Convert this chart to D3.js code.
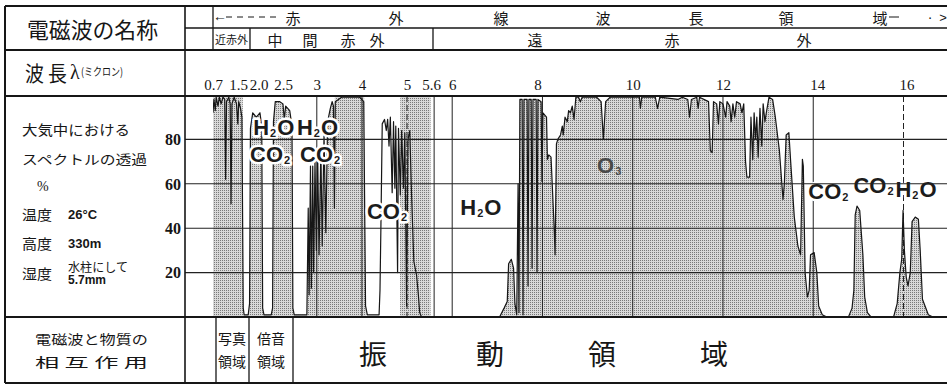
<!DOCTYPE html>
<html>
<head>
<meta charset="utf-8">
<script src="https://cdn.jsdelivr.net/npm/d3@7"></script>
<style>
  body { margin: 0; background: #fff; }
  svg { display: block; }
</style>
</head>
<body>
<svg id="chart" width="947" height="386"></svg>
<script>
// Atmospheric transmission (%) against wavelength (µm)
const nearIR = [
  [0.70, 92], [0.72, 98], [0.75, 93], [0.77, 99], [0.81, 95], [0.84, 99], [0.88, 96],
  [0.92, 99], [0.96, 98], [0.98, 62], [1.00, 97], [1.05, 99], [1.08, 96], [1.10, 51],
  [1.12, 96], [1.17, 99], [1.22, 96], [1.25, 87], [1.27, 97], [1.31, 94], [1.34, 90],
  [1.37, 4], [1.39, 1], [1.48, 1], [1.51, 6]
]
const midIR = [
  [1.53, 85], [1.58, 92], [1.66, 90], [1.74, 92], [1.78, 86], [1.80, 4], [1.83, 1],
  [1.99, 1], [2.02, 4], [2.04, 88], [2.08, 97], [2.18, 97], [2.25, 96], [2.28, 89],
  [2.31, 95], [2.40, 93], [2.45, 86], [2.47, 4], [2.50, 1], [2.78, 1], [2.81, 49],
  [2.83, 10], [2.86, 68], [2.88, 13], [2.91, 68], [2.93, 20], [2.96, 70], [2.99, 30],
  [3.02, 72], [3.05, 28], [3.09, 76], [3.12, 32], [3.16, 82], [3.20, 38], [3.24, 88],
  [3.30, 94], [3.34, 97], [3.37, 95], [3.39, 49], [3.41, 97], [3.55, 99], [3.75, 99],
  [3.95, 99], [4.04, 97], [4.08, 5], [4.12, 1], [4.38, 1], [4.40, 12], [4.42, 40],
  [4.45, 87], [4.50, 89], [4.54, 84], [4.57, 89], [4.60, 77], [4.63, 90], [4.67, 56],
  [4.70, 88], [4.73, 58], [4.75, 86], [4.79, 20], [4.81, 85], [4.85, 55], [4.88, 84],
  [4.92, 58], [4.95, 83], [4.99, 5], [5.02, 80], [5.06, 84], [5.10, 55], [5.15, 25],
  [5.21, 19], [5.25, 10], [5.28, 2], [5.32, 0]
]
const farIR = [
  [7.05, 0], [7.15, 4], [7.22, 7], [7.25, 24], [7.31, 26], [7.36, 22], [7.39, 6],
  [7.43, 1], [7.46, 60], [7.48, 2], [7.50, 98], [7.55, 98], [7.57, 1], [7.59, 98],
  [7.66, 98], [7.68, 14], [7.70, 98], [7.75, 98], [7.77, 22], [7.79, 98], [7.86, 98],
  [7.88, 20], [7.90, 98], [7.97, 97], [7.99, 61], [8.01, 92], [8.09, 90], [8.11, 71],
  [8.14, 73], [8.19, 72], [8.26, 40], [8.28, 28], [8.31, 78], [8.34, 80], [8.40, 82],
  [8.44, 86], [8.46, 82], [8.50, 90], [8.55, 88], [8.58, 93], [8.62, 92], [8.66, 95],
  [8.70, 89], [8.74, 99], [8.80, 99], [8.84, 97], [8.88, 99], [9.00, 99], [9.20, 99],
  [9.30, 97], [9.35, 80], [9.40, 97], [9.50, 99], [9.90, 99], [10.15, 99], [10.17, 94],
  [10.20, 99], [10.50, 99], [10.55, 94], [10.60, 99], [11.00, 98], [11.10, 99],
  [11.22, 98], [11.26, 90], [11.30, 98], [11.42, 99], [11.45, 94], [11.48, 99],
  [11.68, 97], [11.72, 75], [11.76, 74], [11.79, 97], [11.86, 96], [11.90, 87],
  [11.93, 97], [12.00, 96], [12.06, 90], [12.09, 97], [12.15, 95], [12.18, 88],
  [12.22, 96], [12.26, 90], [12.30, 97], [12.38, 96], [12.42, 92], [12.46, 96],
  [12.50, 70], [12.53, 63], [12.59, 63], [12.62, 90], [12.66, 71], [12.69, 92],
  [12.72, 80], [12.75, 90], [12.78, 72], [12.82, 94], [12.86, 77], [12.89, 96],
  [12.93, 88], [12.96, 92], [13.02, 99], [13.10, 98], [13.16, 90], [13.25, 75],
  [13.33, 53], [13.36, 60], [13.40, 82], [13.46, 83], [13.50, 70], [13.58, 45],
  [13.66, 32], [13.72, 28], [13.76, 71], [13.78, 68], [13.82, 20], [13.87, 9],
  [13.91, 12], [13.94, 28], [14.02, 29], [14.08, 20], [14.12, 5], [14.20, 1],
  [14.30, 0], [14.78, 0], [14.86, 4], [14.90, 12], [14.93, 46], [14.97, 50],
  [15.03, 48], [15.10, 28], [15.14, 9], [15.20, 2], [15.28, 0], [15.78, 0],
  [15.86, 6], [15.92, 20], [15.96, 26], [15.99, 48], [16.02, 30], [16.06, 18],
  [16.10, 14], [16.15, 20], [16.19, 43], [16.26, 45], [16.33, 44], [16.37, 30],
  [16.42, 8], [16.55, 1], [16.65, 0], [17.00, 0]
]

const percentTicks = [20, 40, 60, 80]
const wavelengthTicks = [0.7, 1.5, 2.0, 2.5, 3, 4, 5, 5.6, 6, 8, 10, 12, 14, 16]
const gridWavelengths = [3, 4, 5, 5.6, 6, 8, 10, 12, 14, 16]
const dashedGrid = [5, 16]
// full-height shaded bands and the ranges where the area under the curve is shaded
const windowBands = [[0.7, 1.36], [3.40, 4.05], [4.85, 5.52]]
const shadedRanges = [[0.7, 4.1], [4.85, 17]]

const moleculeLabels = [
  { text: "H2O", wl: 1.59, pct: 82 },
  { text: "H2O", wl: 2.56, pct: 82 },
  { text: "CO2", wl: 1.52, pct: 70 },
  { text: "CO2", wl: 2.63, pct: 70 },
  { text: "CO2", wl: 4.11, pct: 44 },
  { text: "H2O", wl: 6.18, pct: 46 },
  { text: "O3", wl: 9.21, pct: 65 },
  { text: "CO2", wl: 13.89, pct: 53 },
  { text: "CO2", wl: 14.89, pct: 56 },
  { text: "H2O", wl: 15.82, pct: 54 }
]

const spectrum = nearIR.concat(midIR, farIR)

const svg = d3.select("#chart")
const W = 947
const colLeft = 5, colDivider = 185, plotLeft = 213
const frameTop = 6, headMid = 28, headBottom = 50, plotTop = 96, plotBottom = 317, frameBottom = 383
const sans = "'Liberation Sans', Arial, sans-serif"
const serif = "'Liberation Serif', 'DejaVu Serif', serif"
const cjk = "'Noto Sans CJK JP', sans-serif"
const ink = "#161616"

const x = d3.scaleLinear().domain([0.7, 16]).range([plotLeft, 903.5])
const y = d3.scaleLinear().domain([0, 100]).range([plotBottom, 95])

const defs = svg.append("defs")
const pat = defs.append("pattern")
  .attr("id", "stipple").attr("width", 2).attr("height", 2)
  .attr("patternUnits", "userSpaceOnUse")
pat.append("rect").attr("width", 2).attr("height", 2).attr("fill", "#d9d9d9")
pat.append("rect").attr("width", 1).attr("height", 1).attr("fill", "#7a7a7a")

defs.append("clipPath").attr("id", "plotClip")
  .append("rect")
  .attr("x", plotLeft).attr("y", plotTop)
  .attr("width", W - plotLeft).attr("height", plotBottom - plotTop)

const shadeClip = defs.append("clipPath").attr("id", "shadeClip")
shadeClip.selectAll("rect")
  .data(shadedRanges)
  .enter().append("rect")
  .attr("x", d => x(d[0]))
  .attr("width", d => x(d[1]) - x(d[0]))
  .attr("y", plotTop).attr("height", plotBottom - plotTop)

const plot = svg.append("g").attr("clip-path", "url(#plotClip)")

// Window bands
plot.selectAll(".band")
  .data(windowBands)
  .enter().append("rect")
  .attr("class", "band")
  .attr("x", d => x(d[0]))
  .attr("width", d => x(d[1]) - x(d[0]))
  .attr("y", plotTop).attr("height", plotBottom - plotTop)
  .attr("fill", "url(#stipple)")

// Shaded area under the transmission curve
const area = d3.area()
  .x(d => x(d[0]))
  .y0(y(0))
  .y1(d => y(d[1]))
plot.append("g").attr("clip-path", "url(#shadeClip)")
  .append("path")
  .datum(spectrum)
  .attr("d", area)
  .attr("fill", "url(#stipple)")

// Grid
svg.selectAll(".hgrid")
  .data(percentTicks)
  .enter().append("line")
  .attr("class", "hgrid")
  .attr("x1", colDivider).attr("x2", W)
  .attr("y1", d => y(d)).attr("y2", d => y(d))
  .attr("stroke", "#222").attr("stroke-width", 1.1)

plot.selectAll(".vgrid")
  .data(gridWavelengths)
  .enter().append("line")
  .attr("class", "vgrid")
  .attr("x1", d => x(d)).attr("x2", d => x(d))
  .attr("y1", plotTop).attr("y2", plotBottom)
  .attr("stroke", "#222").attr("stroke-width", 1)
  .attr("stroke-dasharray", d => dashedGrid.includes(d) ? "6,3" : null)

// Transmission curve outline
const line = d3.line()
  .x(d => x(d[0]))
  .y(d => y(d[1]))
plot.append("path")
  .datum(spectrum)
  .attr("d", line)
  .attr("fill", "none")
  .attr("stroke", ink)
  .attr("stroke-width", 1.2)
  .attr("stroke-linejoin", "round")

// Molecule labels with subscripts
const plainLabels = ["O3"]
moleculeLabels.forEach(lab => {
  const t = plot.append("text")
    .attr("x", x(lab.wl)).attr("y", y(lab.pct))
    .attr("font-family", sans).attr("font-weight", "bold")
    .attr("font-size", 22)
    .attr("fill", plainLabels.includes(lab.text) ? "#4a4a4a" : "#1c1c1c")
  if (!plainLabels.includes(lab.text)) {
    t.attr("stroke", "#fff").attr("stroke-width", 5)
      .attr("stroke-linejoin", "round").attr("paint-order", "stroke")
  }
  let sub = false
  for (const ch of lab.text) {
    const isDigit = /\d/.test(ch)
    const span = t.append("tspan").text(ch)
    if (isDigit && !sub) { span.attr("font-size", 11).attr("dy", 2).attr("dx", 1); sub = true }
    else if (!isDigit && sub) { span.attr("dy", -2).attr("dx", 1); sub = false }
  }
})

// Tick labels (the short ones are packed to the left as in the print)
const tickNudge = { 1.5: -11, 2.0: -13, 2.5: -11, 5.6: -3, 8: -5, 14: 4, 16: 3 }
svg.append("g")
  .attr("transform", `translate(0,${headBottom + 43})`)
  .call(d3.axisTop(x).tickValues(wavelengthTicks).tickSize(0)
    .tickFormat(d => Number.isInteger(d) && d !== 2 ? d : d.toFixed(1)))
  .call(g => g.select(".domain").remove())
  .call(g => g.selectAll("text")
    .attr("dy", 0)
    .attr("dx", d => tickNudge[d] || 0)
    .attr("font-family", serif).attr("font-size", 15)
    .attr("fill", ink))

svg.selectAll(".ylab")
  .data(percentTicks)
  .enter().append("text")
  .attr("class", "ylab")
  .attr("x", colDivider - 4).attr("y", d => y(d))
  .attr("dy", "0.36em")
  .attr("text-anchor", "end")
  .attr("font-family", serif).attr("font-size", 16)
  .attr("font-weight", "bold").attr("fill", ink)
  .text(d => d)

// Table frame
const frame = svg.append("g").attr("stroke", ink).attr("fill", "none")
const hline = (x1, x2, yy, w) => frame.append("line")
  .attr("x1", x1).attr("x2", x2).attr("y1", yy).attr("y2", yy).attr("stroke-width", w)
const vline = (xx, y1, y2, w) => frame.append("line")
  .attr("x1", xx).attr("x2", xx).attr("y1", y1).attr("y2", y2).attr("stroke-width", w)
hline(colLeft, W, frameTop, 2)
hline(colDivider, W, headMid, 1.4)
hline(colLeft, W, headBottom, 1.8)
hline(colLeft, W, plotTop, 1.8)
hline(colLeft, W, plotBottom, 1.8)
hline(colLeft, W, frameBottom, 2)
vline(colLeft, frameTop, frameBottom, 2)
vline(colDivider, frameTop, frameBottom, 1.6)
vline(plotLeft, frameTop, headBottom, 1.3)
vline(250, headMid, headBottom, 1.3)
vline(433, headMid, headBottom, 1.3)
vline(216, plotBottom, frameBottom, 1.3)
vline(249, plotBottom, frameBottom, 1.3)
vline(293, plotBottom, frameBottom, 1.3)

// Table text
const txt = (s, xx, yy, size, opts = {}) => {
  const t = svg.append("text")
    .attr("x", xx).attr("y", yy)
    .attr("font-family", opts.family || cjk)
    .attr("font-size", size)
    .attr("font-weight", opts.weight || "normal")
    .attr("text-anchor", opts.anchor || "start")
    .attr("dominant-baseline", "central")
    .attr("fill", ink)
    .text(s)
  if (opts.len) t.attr("textLength", opts.len).attr("lengthAdjust", "spacingAndGlyphs")
  return t
}

txt("電磁波の名称", 27, 28, 22, { len: 131 })
txt("波 長", 25, 72, 21, { len: 42 })
txt("λ", 70, 72, 20, { family: serif })
txt("(ミクロン)", 81, 71, 11, { len: 42 })

// header row 1: infrared wavelength region
txt("←", 213, 16, 14, { family: sans })
svg.append("line")
  .attr("x1", 226).attr("x2", 277).attr("y1", 17).attr("y2", 17)
  .attr("stroke", ink).attr("stroke-width", 1).attr("stroke-dasharray", "6,5")
const headerChars = [["赤", 293], ["外", 396], ["線", 501], ["波", 603], ["長", 696], ["領", 786], ["域", 880]]
headerChars.forEach(([c, cx]) => txt(c, cx, 17, 15, { anchor: "middle" }))
svg.append("line")
  .attr("x1", 889).attr("x2", 899).attr("y1", 17).attr("y2", 17)
  .attr("stroke", ink).attr("stroke-width", 1)
txt("·", 930, 17, 14, { family: sans, anchor: "middle" })
txt(">", 943, 17, 13, { family: sans, anchor: "middle" })

// header row 2: near / middle / far infrared
txt("近赤外", 215, 39, 11, { len: 33 })
const midChars = [["中", 275], ["間", 310], ["赤", 348], ["外", 377]]
midChars.forEach(([c, cx]) => txt(c, cx, 39, 15, { anchor: "middle" }))
const farChars = [["遠", 535], ["赤", 672], ["外", 804]]
farChars.forEach(([c, cx]) => txt(c, cx, 39, 15, { anchor: "middle" }))

// conditions of the measurement
txt("大気中における", 22, 129, 14, { len: 108 })
txt("スペクトルの透過", 22, 158, 13, { len: 125 })
txt("%", 37, 186, 14, { family: serif })
txt("温度", 22, 214, 14, { len: 30 })
txt("26°C", 68, 214, 13, { family: sans, weight: "bold" })
txt("高度", 22, 243, 14, { len: 30 })
txt("330m", 68, 243, 13, { family: sans, weight: "bold" })
txt("湿度", 22, 273, 14, { len: 30 })
txt("水柱にして", 68, 266, 12, { len: 60 })
txt("5.7mm", 68, 280, 12, { family: sans, weight: "bold" })

// bottom row: interaction of waves with matter
txt("電磁波と物質の", 35, 338, 13, { len: 113 })
txt("相 互 作 用", 35, 361, 13, { len: 113 })
txt("写真", 232, 338, 14, { anchor: "middle" })
txt("領域", 232, 361, 14, { anchor: "middle" })
txt("倍音", 271, 338, 14, { anchor: "middle" })
txt("領域", 271, 361, 14, { anchor: "middle" })
const bigChars = [["振", 373], ["動", 490], ["領", 602], ["域", 714]]
bigChars.forEach(([c, cx]) => txt(c, cx, 353, 28, { anchor: "middle" }))
</script>
</body>
</html>
